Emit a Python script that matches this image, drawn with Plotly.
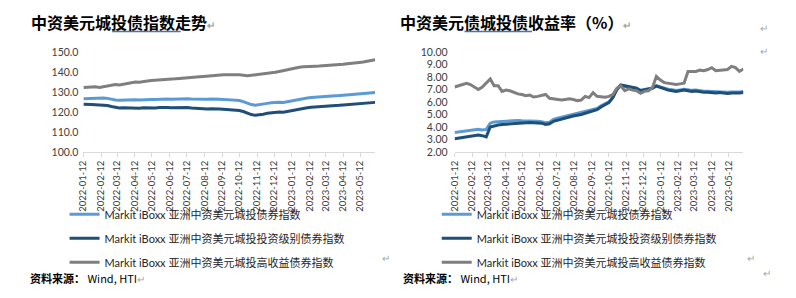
import plotly.graph_objects as go
import pandas as pd

# ---------------- data ----------------
dates = pd.date_range("2022-01-12", periods=74, freq="7D").strftime("%Y-%m-%d").tolist()

tick_labels = ["2022-01-12", "2022-02-12", "2022-03-12", "2022-04-12", "2022-05-12", "2022-06-12",
               "2022-07-12", "2022-08-12", "2022-09-12", "2022-10-12", "2022-11-12", "2022-12-12",
               "2023-01-12", "2023-02-12", "2023-03-12", "2023-04-12", "2023-05-12"]

series_names = ["Markit iBoxx 亚洲中资美元城投债券指数",
                "Markit iBoxx 亚洲中资美元城投投资级别债券指数",
                "Markit iBoxx 亚洲中资美元城投高收益债券指数"]

idx_all = [126.6, 126.7, 126.6, 126.8, 126.7, 127.0, 126.8, 126.3, 126.0, 125.9,
           126.0, 126.1, 126.0, 126.1, 126.0, 126.2, 126.1, 126.3, 126.2, 126.4,
           126.6, 126.5, 126.4, 126.5, 126.3, 126.5, 126.6, 126.5, 126.4, 126.6,
           126.5, 126.4, 126.5, 126.3, 126.4, 126.3, 126.2, 126.1, 126.0, 125.7,
           125.2, 124.4, 123.7, 123.4, 123.6, 123.9, 124.3, 124.6, 124.8, 124.9,
           124.8, 125.2, 125.7, 126.1, 126.5, 126.9, 127.0, 127.2, 127.3, 127.5,
           127.6, 127.7, 127.9, 128.1, 128.2, 128.4, 128.6, 128.7, 128.9, 129.1,
           129.2, 129.4, 129.6, 129.8]

idx_ig = [123.8, 123.9, 123.7, 123.6, 123.4, 123.5, 123.2, 122.7, 122.2, 122.0,
          122.1, 122.0, 121.9, 122.0, 121.9, 122.1, 122.0, 122.1, 122.0, 122.2,
          122.3, 122.2, 122.1, 122.2, 122.0, 122.1, 122.2, 122.0, 121.8, 121.7,
          121.6, 121.5, 121.6, 121.4, 121.5, 121.4, 121.3, 121.2, 121.0, 120.7,
          120.2, 119.4, 118.7, 118.3, 118.5, 118.9, 119.3, 119.6, 119.9, 120.0,
          119.9, 120.3, 120.8, 121.2, 121.6, 122.0, 122.1, 122.3, 122.4, 122.6,
          122.7, 122.8, 123.0, 123.2, 123.3, 123.5, 123.7, 123.8, 124.0, 124.1,
          124.3, 124.4, 124.6, 124.8]

idx_hy = [132.3, 132.5, 132.4, 132.6, 132.3, 132.7, 133.2, 133.6, 133.7, 133.5,
          133.9, 134.4, 134.8, 135.0, 134.9, 135.3, 135.5, 135.7, 135.8, 136.0,
          136.2, 136.1, 136.4, 136.6, 136.8, 136.9, 137.1, 137.3, 137.5, 137.6,
          137.8, 138.0, 138.1, 138.2, 138.4, 138.6, 138.6, 138.8, 138.7, 138.6,
          138.3, 138.2, 138.4, 138.6, 139.0, 139.3, 139.5, 139.6, 139.9, 140.3,
          140.7, 141.3, 141.8, 142.2, 142.4, 142.6, 142.6, 142.8, 142.9, 143.0,
          143.1, 143.3, 143.4, 143.6, 143.7, 143.9, 144.2, 144.5, 144.6, 144.8,
          145.0, 145.3, 145.7, 146.2]

yld_all = [3.55, 3.60, 3.63, 3.67, 3.70, 3.78, 3.82, 3.75, 3.80, 4.30,
           4.40, 4.42, 4.45, 4.47, 4.50, 4.50, 4.52, 4.50, 4.50, 4.48,
           4.46, 4.45, 4.42, 4.33, 4.38, 4.60, 4.70, 4.78, 4.85, 4.92,
           5.00, 5.05, 5.12, 5.20, 5.30, 5.40, 5.48, 5.70, 5.82, 6.00,
           6.40, 7.00, 7.30, 7.25, 7.15, 7.12, 7.08, 6.95, 7.02, 7.08,
           7.12, 7.30, 7.20, 7.10, 7.02, 6.98, 6.92, 6.97, 7.02, 6.98,
           6.93, 6.95, 6.88, 6.86, 6.86, 6.83, 6.80, 6.83, 6.78, 6.77,
           6.80, 6.78, 6.80, 6.83]

yld_ig = [3.05, 3.10, 3.15, 3.20, 3.25, 3.30, 3.35, 3.30, 3.20, 4.00,
          4.10, 4.15, 4.20, 4.22, 4.25, 4.30, 4.32, 4.33, 4.33, 4.35,
          4.33, 4.33, 4.30, 4.20, 4.25, 4.45, 4.55, 4.65, 4.72, 4.80,
          4.88, 4.92, 5.00, 5.10, 5.20, 5.30, 5.38, 5.60, 5.75, 5.95,
          6.35, 7.00, 7.36, 7.30, 7.20, 7.15, 7.10, 6.90, 6.98, 7.05,
          7.10, 7.28, 7.15, 7.05, 6.95, 6.90, 6.85, 6.90, 6.95, 6.90,
          6.85, 6.88, 6.80, 6.78, 6.78, 6.75, 6.72, 6.75, 6.70, 6.68,
          6.72, 6.70, 6.72, 6.75]

yld_hy = [7.20, 7.30, 7.45, 7.50, 7.40, 7.20, 7.00, 7.20, 7.50, 7.85,
          7.30, 7.30, 6.85, 6.95, 6.90, 6.75, 6.65, 6.60, 6.50, 6.55,
          6.40, 6.45, 6.55, 6.60, 6.30, 6.25, 6.20, 6.15, 6.20, 6.25,
          6.20, 6.10, 6.15, 6.45, 6.35, 6.75, 6.45, 6.40, 6.38, 6.45,
          6.60, 7.10, 7.30, 6.90, 7.05, 6.95, 6.90, 6.70, 6.85, 6.90,
          7.15, 8.05, 7.75, 7.55, 7.50, 7.45, 7.40, 7.45, 7.50, 8.45,
          8.45, 8.45, 8.55, 8.50, 8.60, 8.75, 8.50, 8.55, 8.55, 8.60,
          8.85, 8.75, 8.45, 8.65]

colors = ["#5B9BD5", "#1F4E79", "#7F7F7F"]

W, H = 796, 298
def px(x):
    return x / W
def py(y):
    return 1 - y / H

fig = go.Figure()

left_series = [idx_all, idx_ig, idx_hy]
right_series = [yld_all, yld_ig, yld_hy]
for i in range(3):
    fig.add_trace(go.Scatter(x=dates, y=left_series[i], mode="lines", name=series_names[i],
                             line=dict(color=colors[i], width=3), xaxis="x", yaxis="y",
                             legend="legend", legendgroup="L%d" % i, legendrank=i + 1))
for i in range(3):
    fig.add_trace(go.Scatter(x=dates, y=right_series[i], mode="lines", name=series_names[i],
                             line=dict(color=colors[i], width=3), xaxis="x2", yaxis="y2",
                             legend="legend2", legendgroup="R%d" % i, legendrank=i + 1))

xtick_font = dict(family="Lato, 'Noto Sans', sans-serif", size=9.5, color="#404040")
ytick_font = dict(family="Lato, 'Noto Sans', sans-serif", size=10.5, color="#404040")
xcommon = dict(type="date", range=["2022-01-12", "2023-06-07"], tickvals=tick_labels,
               ticktext=tick_labels, tickangle=-90, showgrid=False, zeroline=False,
               showline=True, linecolor="#d9d9d9", linewidth=1, ticks="outside",
               ticklen=4, tickcolor="#d9d9d9", tickfont=xtick_font)
ycommon = dict(showgrid=False, zeroline=False, showline=False, ticks="", tickfont=ytick_font)

legend_font = dict(family="Lato, 'Noto Sans CJK SC', sans-serif", size=11, color="#262626")

fig.update_layout(
    width=W, height=H, margin=dict(l=0, r=0, t=0, b=0),
    paper_bgcolor="white", plot_bgcolor="white",
    xaxis=dict(domain=[px(78), px(372)], anchor="y", **xcommon),
    yaxis=dict(domain=[py(152), py(48)], anchor="x", range=[100, 150], dtick=10,
               tickformat=".1f", ticklabelstandoff=4, **ycommon),
    xaxis2=dict(domain=[px(452), px(743)], anchor="y2", **xcommon),
    yaxis2=dict(domain=[py(152), py(48)], anchor="x2", range=[2, 10], dtick=1,
                tickformat=".2f", ticklabelstandoff=6, **ycommon),
    legend=dict(x=px(59), y=py(202), xanchor="left", yanchor="top", orientation="v",
                font=legend_font, tracegroupgap=5, bgcolor="rgba(0,0,0,0)",
                traceorder="grouped"),
    legend2=dict(x=px(434), y=py(202), xanchor="left", yanchor="top", orientation="v",
                 font=legend_font, tracegroupgap=5, bgcolor="rgba(0,0,0,0)",
                 traceorder="grouped"),
    showlegend=True,
)

title_font = dict(family="'Noto Sans CJK SC', sans-serif", size=16, color="#000000", weight="bold")
ret = "<span style='color:#a6a6a6;font-size:10px'>↵</span>"
fig.add_annotation(x=px(23), y=py(17), xref="paper", yref="paper", xanchor="left", yanchor="middle",
                   text="中资美元城投债指数走势" + ret, showarrow=False, font=title_font)
fig.add_annotation(x=px(395), y=py(17), xref="paper", yref="paper", xanchor="left", yanchor="middle",
                   text="中资美元债城投债收益率（%）" + ret, showarrow=False, font=title_font)

src_font = dict(family="'Noto Sans CJK SC', Lato, sans-serif", size=11, color="#000000")
fig.add_annotation(x=px(22), y=py(283), xref="paper", yref="paper", xanchor="left", yanchor="middle",
                   text="<b>资料来源：</b> Wind, HTI" + ret, showarrow=False, font=src_font)
fig.add_annotation(x=px(398), y=py(283), xref="paper", yref="paper", xanchor="left", yanchor="middle",
                   text="<b>资料来源：</b> Wind, HTI" + ret, showarrow=False, font=src_font)

for (x, y) in [(770, 14), (770, 37), (383, 272), (757, 272), (773, 288)]:
    fig.add_annotation(x=px(x), y=py(y), xref="paper", yref="paper", text="↵", showarrow=False,
                       font=dict(size=10, color="#a6a6a6"))

# spell-check underlines under title words
for (x0, x1) in [(107, 176), (462, 530)]:
    fig.add_shape(type="line", xref="paper", yref="paper", x0=px(x0), x1=px(x1),
                  y0=py(26.5), y1=py(26.5), line=dict(color="#4472C4", width=1.5), layer="above")

fig.write_html("out.html")
